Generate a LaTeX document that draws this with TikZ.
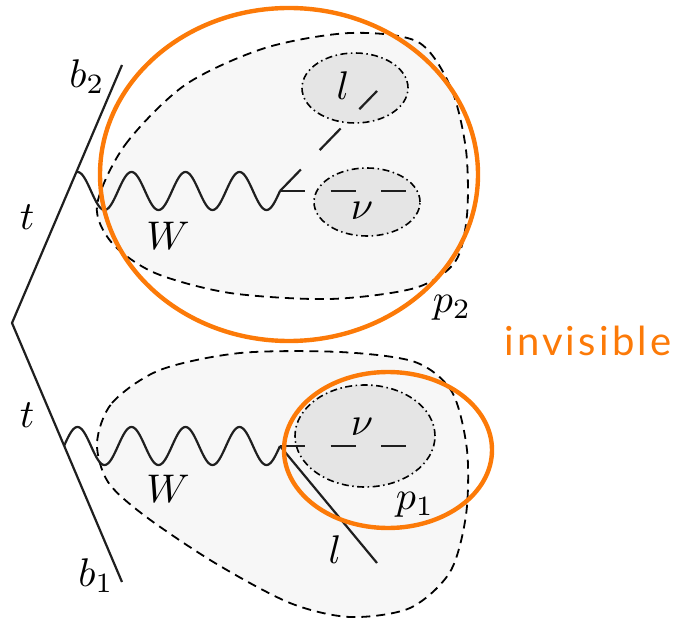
\documentclass[tikz,border=0pt]{standalone}
\usepackage{fontspec}
\usetikzlibrary{shapes.geometric}
\newfontfamily\invfont[LetterSpace=8]{Lato}
\definecolor{orng}{RGB}{252,122,8}
\definecolor{blobfill}{RGB}{247,247,247}
\definecolor{ellfill}{RGB}{229,229,229}
\begin{document}
\begin{tikzpicture}[x=1pt,y=-1pt,
  lbl/.style={font=\fontsize{10}{12}\selectfont, inner sep=0pt, scale=4},
  solidline/.style={line width=2.2pt, black!88},
  blob/.style={dash pattern=on 9pt off 6pt, line width=1.8pt, fill=blobfill},
  subblob/.style={dash pattern=on 7pt off 3.5pt on 1.5pt off 3.5pt, line width=1.6pt, fill=ellfill, inner sep=0pt},
  leptonline/.style={line width=2.2pt, black!88, dash pattern=on 30pt off 27pt},
  nuline/.style={line width=2.2pt, black!88, dash pattern=on 25pt off 25.5pt},
  ring/.style={draw=orng, line width=4.4pt},
  wave/.style={line width=2.2pt, black!88}]
\useasboundingbox (0,0) rectangle (677,620);

% blobs
\draw[blob] plot[smooth cycle] coordinates {(97,205) (125,145) (185,85) (265,48) (350,33) (418,42) (451,88) (466,150) (467,215) (455,262) (415,288) (330,299) (230,293) (155,273) (112,243)};
\draw[blob] plot[smooth cycle] coordinates {(97,443) (112,403) (160,370) (240,353) (340,352) (415,362) (452,392) (467,450) (466,515) (450,572) (410,608) (350,617) (290,603) (215,563) (145,516) (108,482)};

% sub ellipses
\node[subblob, draw, ellipse, minimum width=106pt, minimum height=70pt] (ell) at (355,88) {};
\node[subblob, draw, ellipse, minimum width=106pt, minimum height=68pt] (enu2) at (367,202) {};
\node[subblob, draw, ellipse, minimum width=140pt, minimum height=102pt] (enu1) at (365,436) {};

% coordinates
\coordinate (vtx) at (12,323);
\coordinate (b2end) at (122,65);
\coordinate (b1end) at (122,582);
\coordinate (v2) at (280,191);
\coordinate (v1) at (280,446);
\coordinate (l2end) at (377,91);
\coordinate (nu2end) at (407,191);
\coordinate (nu1end) at (407,446);
\coordinate (l1end) at (377,563);

% quark lines
\draw[solidline, line join=round] (b2end) -- (vtx) -- (b1end);

% W bosons
\draw[wave] plot[domain=76.5:280, samples=220, smooth] (\x, {191 - 19*sin((\x-64)*6.66667)});
\draw[wave] plot[domain=64.2:280, samples=220, smooth] (\x, {446 - 19*sin((\x-64)*6.66667)});

% decay lines
\draw[leptonline] (v2) -- (l2end);
\draw[nuline] (v2) -- (nu2end);
\draw[nuline] (v1) -- (nu1end);
\draw[solidline] (v1) -- (l1end);

% labels
\node[lbl] (tup) at (27,217) {$t$};
\node[lbl] (tlo) at (27,415) {$t$};
\node[lbl] (lb2) at (87,77) {$b_2$};
\node[lbl] (lb1) at (96,576) {$b_1$};
\node[lbl] (W2) at (168,236) {$W$};
\node[lbl] (W1) at (168,489) {$W$};
\node[lbl] (labl2) at (343,86) {$l$};
\node[lbl] (nu2) at (362,211) {$\nu$};
\node[lbl] (nu1) at (362,427) {$\nu$};
\node[lbl] (p1) at (415,505) {$p_1$};
\node[lbl] (p2) at (452,308) {$p_2$};
\node[lbl] (labl1) at (335,550) {$l$};

% orange rings
\draw[ring] (289,174.5) ellipse [x radius=189, y radius=166.5];
\draw[ring] (388,450) ellipse [x radius=104, y radius=78];
\node[anchor=base west, text=orng, inner sep=0pt, font=\invfont\fontsize{40}{48}\selectfont] (inv) at (504,355) {invisible};
\end{tikzpicture}
\end{document}
